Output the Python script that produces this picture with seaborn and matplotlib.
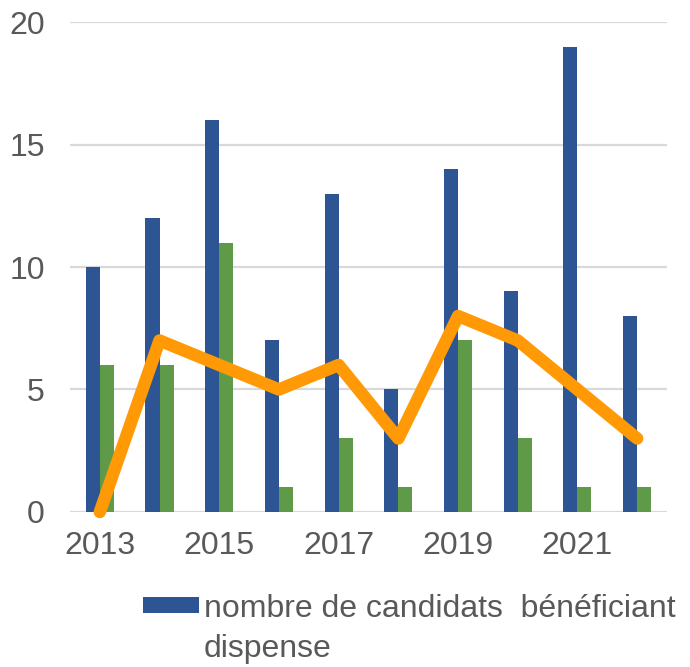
import numpy as np
import pandas as pd
import matplotlib
matplotlib.use("Agg")
import matplotlib.pyplot as plt
from matplotlib.patches import Patch
import seaborn as sns

years = [2013, 2014, 2015, 2016, 2017, 2018, 2019, 2020, 2021, 2022]
candidats = [10, 12, 16, 7, 13, 5, 14, 9, 19, 8]
second_serie = [6, 6, 11, 1, 3, 1, 7, 3, 1, 1]
ligne = [0, 7, 6, 5, 6, 3, 8, 7, 5, 3]
y_ticks = [0, 5, 10, 15, 20]
legend_line1 = "nombre de candidats  bénéficiant"
legend_line2 = "dispense"

BLUE = "#2E5593"
GREEN = "#5F9A48"
ORANGE = "#FF9A06"
GREY_TXT = "#595959"
GRID = "#D9D9D9"

sns.set_theme(style="white")
plt.rcParams["font.family"] = ["Liberation Sans", "DejaVu Sans"]

df = pd.DataFrame({
    "année": [str(y) for y in years] * 2,
    "valeur": candidats + second_serie,
    "série": ["bleu"] * len(years) + ["vert"] * len(years),
})

fig = plt.figure(figsize=(6.90, 6.67), dpi=100)
ax = fig.add_axes([0.1014, 0.2324, 0.8653, 0.7346])

sns.barplot(data=df, x="année", y="valeur", hue="série",
            hue_order=["bleu", "vert"], palette=[BLUE, GREEN],
            width=0.47, saturation=1, gap=0, ax=ax, legend=False,
            linewidth=0, zorder=2)

sns.lineplot(x=np.arange(len(years)), y=ligne, color=ORANGE, linewidth=9,
             ax=ax, zorder=4, solid_joinstyle="round", solid_capstyle="round",
             clip_on=False)

ax.set_ylim(0, 20)
ax.set_xlim(-0.5, len(years) - 0.5)
ax.set_yticks(y_ticks)
ax.set_yticklabels([str(v) for v in y_ticks])
ax.set_xticks(np.arange(len(years)))
ax.set_xticklabels([str(y) if i % 2 == 0 else "" for i, y in enumerate(years)])
ax.set_xlabel("")
ax.set_ylabel("")
for s in ax.spines.values():
    s.set_visible(False)
ax.yaxis.grid(True, color=GRID, linewidth=1.6, zorder=0)
ax.set_axisbelow(True)
ax.tick_params(axis="y", length=0, pad=18, labelsize=23, labelcolor=GREY_TXT)
ax.tick_params(axis="x", length=0, pad=14, labelsize=23, labelcolor=GREY_TXT)

handles = [Patch(facecolor=BLUE, edgecolor="none"),
           Patch(facecolor="none", edgecolor="none")]
fig.legend(handles, [legend_line1, legend_line2], loc="upper left",
           bbox_to_anchor=(0.207, 0.11), frameon=False, fontsize=23,
           handlelength=1.75, handleheight=0.4, handletextpad=0.15,
           labelspacing=0.33, borderpad=0, borderaxespad=0,
           labelcolor=GREY_TXT)

fig.savefig("out.png", dpi=100)
